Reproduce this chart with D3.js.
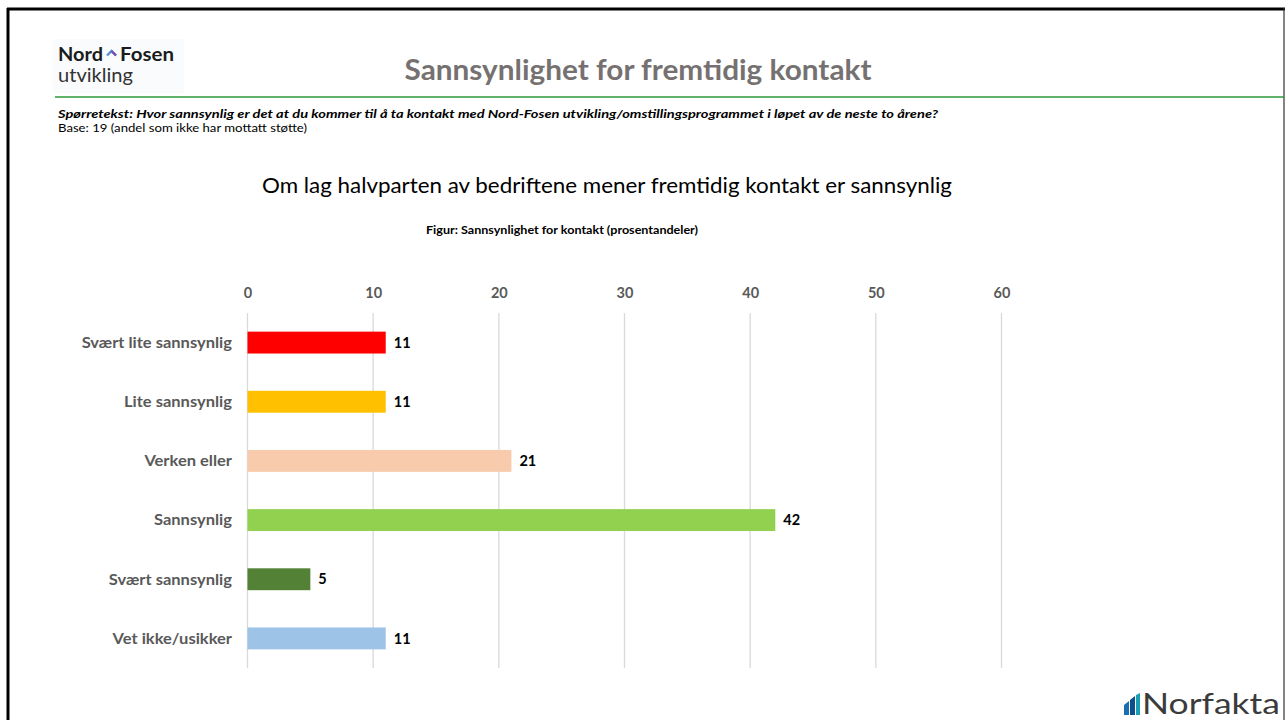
<!DOCTYPE html>
<html>
<head>
<meta charset="utf-8">
<script src="https://cdn.jsdelivr.net/npm/d3@7"></script>
<style>
  html, body { margin: 0; padding: 0; background: #fff; }
  svg { display: block; font-family: Lato, "Open Sans", sans-serif; }
</style>
</head>
<body>
<div id="chart"></div>
<script>
'use strict';

var categories = ['Svært lite sannsynlig', 'Lite sannsynlig', 'Verken eller', 'Sannsynlig', 'Svært sannsynlig', 'Vet ikke/usikker'];
var values = [11, 11, 21, 42, 5, 11];
var barColors = ['#ff0000', '#ffc000', '#f8cbad', '#92d050', '#538135', '#9dc3e6'];
var ticks = [0, 10, 20, 30, 40, 50, 60];

var W = 1285, H = 720;
var margin = {top: 313, left: 247.5, right: 283.5, bottom: 52};

var svg = d3.select('#chart').append('svg')
	.attr('width', W)
	.attr('height', H);

// text fitted to width, Calibri-ish narrow look
function txt(x, y, s, size, opts){
	opts = opts || {};
	var t = svg.append('text')
		.attr('x', x)
		.attr('y', y)
		.attr('font-size', size)
		.attr('font-weight', opts.weight || 'normal')
		.attr('font-style', opts.style || 'normal')
		.attr('fill', opts.fill || '#000')
		.attr('text-anchor', opts.anchor || 'start')
		.text(s);
	if (opts.width) t.attr('textLength', opts.width).attr('lengthAdjust', 'spacingAndGlyphs');
	return t;
}

// page frame
svg.append('line').attr('x1', 7).attr('x2', 1285).attr('y1', 9).attr('y2', 9)
	.attr('stroke', '#000').attr('stroke-width', 3);
svg.append('line').attr('x1', 8).attr('x2', 8).attr('y1', 8).attr('y2', H)
	.attr('stroke', '#000').attr('stroke-width', 3);
svg.append('line').attr('x1', 1284).attr('x2', 1284).attr('y1', 8).attr('y2', H)
	.attr('stroke', '#333').attr('stroke-width', 1.2);

// logo Nord-Fosen
svg.append('rect').attr('x', 53).attr('y', 39).attr('width', 131).attr('height', 54).attr('fill', '#fafbfc');
txt(58, 61, 'Nord', 18, {weight: 'bold', fill: '#1b1b1b', width: 45});
svg.append('path')
	.attr('d', 'M107,55.5 L111.5,51 L116,55.5')
	.attr('fill', 'none').attr('stroke', '#5a8fd6').attr('stroke-width', 2.4);
svg.append('path')
	.attr('d', 'M111.5,51 L116,55.5')
	.attr('fill', 'none').attr('stroke', '#7a4fb0').attr('stroke-width', 2.4);
txt(120, 61, 'Fosen', 18, {weight: 'bold', fill: '#1b1b1b', width: 54});
txt(58, 82, 'utvikling', 19, {fill: '#333', width: 75});

// title
txt(638, 80, 'Sannsynlighet for fremtidig kontakt', 28, {weight: 'bold', fill: '#767171', anchor: 'middle', width: 467});

svg.append('line').attr('x1', 55).attr('x2', 1284).attr('y1', 97).attr('y2', 97)
	.attr('stroke', '#2e9a38').attr('stroke-width', 1.5);

txt(58, 118, 'Spørretekst: Hvor sannsynlig er det at du kommer til å ta kontakt med Nord-Fosen utvikling/omstillingsprogrammet i løpet av de neste to årene?', 12, {weight: 'bold', style: 'italic', width: 880});
txt(58, 132, 'Base: 19 (andel som ikke har mottatt støtte)', 12, {width: 249});

txt(607, 193, 'Om lag halvparten av bedriftene mener fremtidig kontakt er sannsynlig', 20.5, {anchor: 'middle', width: 690});
txt(562, 234, 'Figur: Sannsynlighet for kontakt (prosentandeler)', 10.5, {weight: 'bold', anchor: 'middle', width: 272});

// chart
var x = d3.scaleLinear().domain([0, 60]).range([margin.left, W - margin.right]);
var y = d3.scaleBand().domain(categories).range([margin.top, H - margin.bottom]).paddingInner(0.63).paddingOuter(0.315);

svg.append('g').selectAll('line')
	.data(ticks)
	.join('line')
	.attr('x1', function(d){ return x(d); })
	.attr('x2', function(d){ return x(d); })
	.attr('y1', margin.top)
	.attr('y2', H - margin.bottom)
	.attr('stroke', '#d9d9d9')
	.attr('stroke-width', 1.3);

var xAxis = svg.append('g')
	.attr('transform', 'translate(0,' + 298 + ')')
	.call(d3.axisTop(x).tickValues(ticks).tickSize(0).tickPadding(0));
xAxis.select('.domain').remove();
xAxis.selectAll('text')
	.attr('font-family', 'Lato, sans-serif')
	.attr('font-size', 14.5)
	.attr('font-weight', 'bold')
	.attr('fill', '#595959');

var yAxis = svg.append('g')
	.attr('transform', 'translate(' + 232 + ',0)')
	.call(d3.axisLeft(y).tickSize(0).tickPadding(0));
yAxis.select('.domain').remove();
yAxis.selectAll('text')
	.attr('font-family', 'Lato, sans-serif')
	.attr('font-size', 15)
	.attr('font-weight', 'bold')
	.attr('fill', '#595959')
	.attr('dy', '0.35em')
	.each(function(){
		// stretch to the wider Calibri run of the reference
		var w = this.getComputedTextLength();
		d3.select(this).attr('textLength', w * 1.1).attr('lengthAdjust', 'spacingAndGlyphs');
	});

svg.append('g').selectAll('rect')
	.data(values)
	.join('rect')
	.attr('x', x(0))
	.attr('y', function(d, i){ return y(categories[i]); })
	.attr('width', function(d){ return x(d) - x(0); })
	.attr('height', y.bandwidth())
	.attr('fill', function(d, i){ return barColors[i]; });

svg.append('g').selectAll('text')
	.data(values)
	.join('text')
	.attr('x', function(d){ return x(d) + 8; })
	.attr('y', function(d, i){ return y(categories[i]) + y.bandwidth()/2; })
	.attr('dy', '0.36em')
	.attr('font-size', 14.5)
	.attr('font-weight', 'bold')
	.attr('fill', '#000')
	.text(function(d){ return d; });

// Norfakta logo
var logo = svg.append('g').attr('transform', 'translate(1124,693)');
logo.append('path').attr('d', 'M0,12 L5,8 L5,22 L0,22 Z').attr('fill', '#1a6fb0');
logo.append('path').attr('d', 'M6,7 L11,3 L11,22 L6,22 Z').attr('fill', '#0d4f8a');
logo.append('path').attr('d', 'M12,2 L16,0 L16,22 L12,22 Z').attr('fill', '#1a9fb5');
txt(1142, 714, 'Norfakta', 29, {fill: '#3b3b3b', width: 138});
</script>
</body>
</html>
